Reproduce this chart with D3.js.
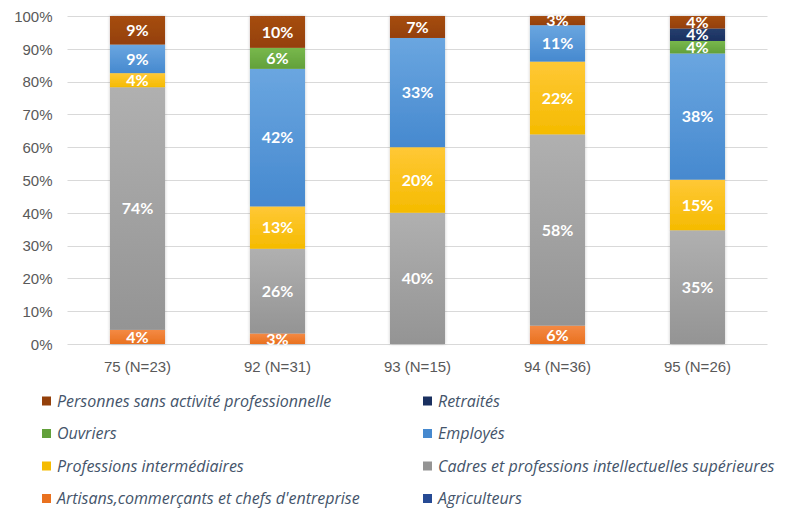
<!DOCTYPE html>
<html lang="fr">
<head>
    <meta charset="UTF-8">
    <title>CSP par département</title>
    <style>
        body {
            margin: 0;
            background: #fff;
            font-family: 'Lato', 'Open Sans', sans-serif;
        }
        .tick text { fill: #595959; font-size: 15px; }
        .label { fill: #fff; font-size: 16px; font-weight: bold; }
        .legend text { fill: #44546a; font-size: 16px; font-style: italic; font-family: 'Open Sans', sans-serif; }
    </style>
    <script src="https://d3js.org/d3.v7.min.js"></script>
</head>
<body>
<div id="chart"></div>
<script>
    // categories (departements + effectif)
    var categories = ["75 (N=23)", "92 (N=31)", "93 (N=15)", "94 (N=36)", "95 (N=26)"];

    // series, bottom of the stack to top
    var seriesNames = [
        "Agriculteurs",
        "Artisans,commerçants et chefs d'entreprise",
        "Cadres et professions intellectuelles supérieures",
        "Professions intermédiaires",
        "Employés",
        "Ouvriers",
        "Retraités",
        "Personnes sans activité professionnelle"
    ];

    // percentages per category
    var agriculteurs   = [0, 0, 0, 0, 0];
    var artisans       = [4.3, 3.2, 0, 5.6, 0];
    var cadres         = [73.9, 25.8, 40.0, 58.3, 34.6];
    var intermediaires = [4.3, 12.9, 20.0, 22.2, 15.4];
    var employes       = [8.7, 41.9, 33.3, 11.1, 38.4];
    var ouvriers       = [0, 6.4, 0, 0, 3.8];
    var retraites      = [0, 0, 0, 0, 3.8];
    var sansActivite   = [8.7, 9.7, 6.7, 2.8, 3.8];

    var yTicks = [0, 0.1, 0.2, 0.3, 0.4, 0.5, 0.6, 0.7, 0.8, 0.9, 1];

    var seriesValues = [agriculteurs, artisans, cadres, intermediaires, employes, ouvriers, retraites, sansActivite];

    // office-like colours: [top, bottom] of each segment gradient
    var colors = [
        ["#3a62b0", "#264a94"],
        ["#f48a45", "#e9711f"],
        ["#b0b0b0", "#949494"],
        ["#ffc836", "#f5bb00"],
        ["#6aa6e0", "#4689cf"],
        ["#78b84c", "#62a03a"],
        ["#263f6e", "#1a3060"],
        ["#a64d12", "#94400a"]
    ];

    var width = 785, height = 508;

    // rows for d3.stack
    var rows = categories.map(function(c, i) {
        var r = { cat: c };
        seriesNames.forEach(function(s, j) { r[s] = seriesValues[j][i]; });
        return r;
    });

    var stack = d3.stack().keys(seriesNames).offset(d3.stackOffsetExpand);
    var layers = stack(rows);

    var x = d3.scaleBand()
        .domain(categories)
        .range([67.5, 767.5])
        .paddingInner(0.607)
        .paddingOuter(0.3035);

    var y = d3.scaleLinear().domain([0, 1]).range([344, 16]);

    var svg = d3.select("#chart").append("svg")
        .attr("width", width)
        .attr("height", height);

    var defs = svg.append("defs");
    colors.forEach(function(c, i) {
        var g = defs.append("linearGradient")
            .attr("id", "grad" + i)
            .attr("x1", 0).attr("y1", 0).attr("x2", 0).attr("y2", 1);
        g.append("stop").attr("offset", "0%").attr("stop-color", c[0]);
        g.append("stop").attr("offset", "100%").attr("stop-color", c[1]);
    });
    var shadow = defs.append("filter").attr("id", "shadow")
        .attr("x", "-20%").attr("y", "-5%").attr("width", "140%").attr("height", "110%");
    shadow.append("feDropShadow")
        .attr("dx", 0).attr("dy", 0).attr("stdDeviation", 1.5)
        .attr("flood-color", "#000").attr("flood-opacity", 0.25);

    // y axis + gridlines
    var yAxis = svg.append("g")
        .attr("transform", "translate(67.5,0)")
        .call(d3.axisLeft(y).tickValues(yTicks).tickFormat(d3.format(".0%")).tickSize(0).tickPadding(15));
    yAxis.select(".domain").remove();
    yAxis.selectAll(".tick text").attr("dy", "0.35em");

    svg.append("g")
        .selectAll("line")
        .data(yTicks)
        .enter()
        .append("line")
        .attr("x1", 67.5).attr("x2", 767.5)
        .attr("y1", function(d) { return Math.round(y(d)) + 0.5; })
        .attr("y2", function(d) { return Math.round(y(d)) + 0.5; })
        .attr("stroke", "#d9d9d9")
        .attr("stroke-width", 1);

    // x axis labels
    var xAxis = svg.append("g")
        .attr("transform", "translate(0,344)")
        .call(d3.axisBottom(x).tickSize(0).tickPadding(17));
    xAxis.select(".domain").remove();

    // bars
    var barGroup = svg.append("g").attr("filter", "url(#shadow)");
    layers.forEach(function(layer, i) {
        barGroup.selectAll(".s" + i)
            .data(layer.filter(function(d) { return d[1] - d[0] > 0; }))
            .enter()
            .append("rect")
            .attr("x", function(d) { return x(d.data.cat); })
            .attr("width", x.bandwidth())
            .attr("y", function(d) { return y(d[1]); })
            .attr("height", function(d) { return y(d[0]) - y(d[1]); })
            .attr("fill", "url(#grad" + i + ")");
    });

    // value labels
    var fmt = d3.format(".0f");
    layers.forEach(function(layer, i) {
        svg.selectAll(".l" + i)
            .data(layer.filter(function(d) { return d[1] - d[0] > 0; }))
            .enter()
            .append("text")
            .attr("class", "label")
            .attr("text-anchor", "middle")
            .attr("dy", "0.36em")
            .attr("x", function(d) { return x(d.data.cat) + x.bandwidth() / 2; })
            .attr("y", function(d) { return y((d[0] + d[1]) / 2); })
            .text(function(d) { return fmt(d.data[layer.key]) + "%"; });
    });

    // legend: two columns, series from top of the stack down
    var legendItems = seriesNames.slice().reverse();
    var legend = svg.append("g").attr("class", "legend");
    legendItems.forEach(function(name, k) {
        var col = k % 2, row = Math.floor(k / 2);
        var idx = seriesNames.indexOf(name);
        var lx = col === 0 ? 42 : 423;
        var ly = 401 + row * 32.5;
        legend.append("rect")
            .attr("x", lx).attr("y", ly - 4.5)
            .attr("width", 9).attr("height", 9)
            .attr("fill", colors[idx][1]);
        legend.append("text")
            .attr("x", lx + 15).attr("y", ly)
            .attr("dy", "0.35em")
            .text(name);
    });
</script>
</body>
</html>
